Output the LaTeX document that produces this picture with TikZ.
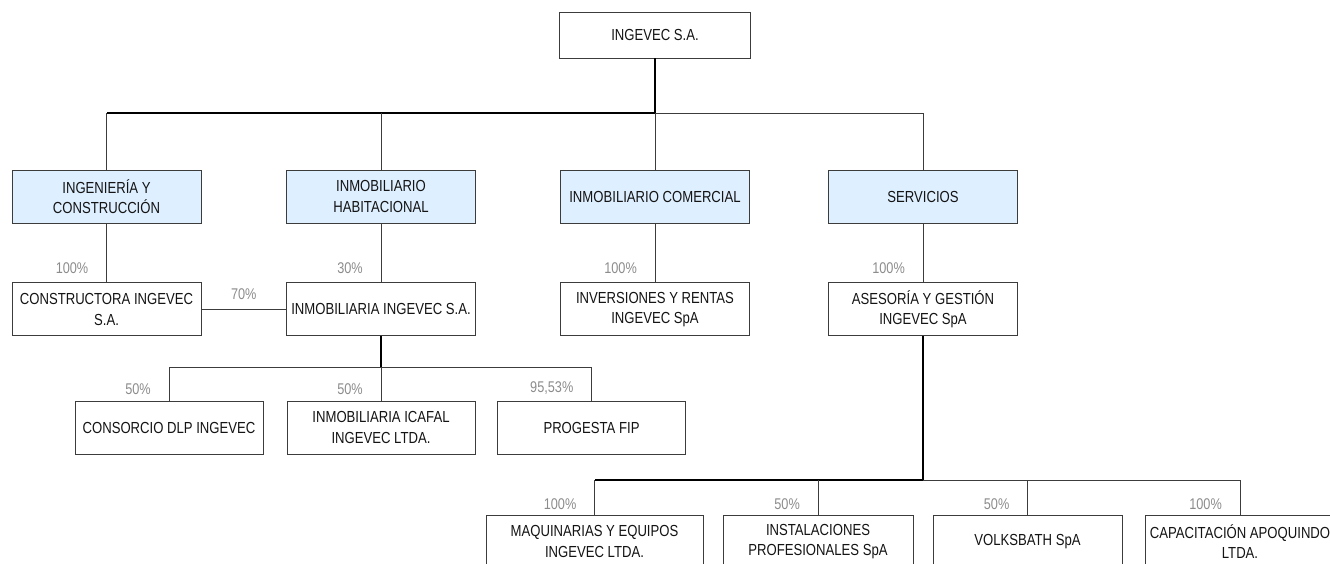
\documentclass[tikz,border=0pt]{standalone}
\usepackage{fontspec}
\setmainfont{Liberation Sans}[FakeStretch=0.82]
\usepackage{tikz}
\usetikzlibrary{positioning}

\definecolor{celeste}{RGB}{222,239,255}
\definecolor{borde}{RGB}{60,60,60}
\definecolor{gris}{RGB}{140,140,140}
\definecolor{texto}{RGB}{20,20,20}

\begin{document}
\begin{tikzpicture}[x=1pt, y=-1pt,
    box/.style={draw=borde, line width=0.9pt, fill=white, text=texto, align=center,
        minimum width=189pt, minimum height=53pt, inner xsep=2pt, inner ysep=0pt,
        font=\fontsize{16}{20.5}\selectfont},
    area/.style={box, fill=celeste},
    pct/.style={text=gris, inner sep=1pt, font=\fontsize{15.5}{17}\selectfont},
    link/.style={draw=borde, line width=0.9pt},
    trunk/.style={draw=black, line width=1.8pt}]

    \useasboundingbox (0,0) rectangle (1330,563);
    \clip (0,0) rectangle (1330,563);

    \node[box, minimum width=191pt, minimum height=46pt] (A) at (655,35) {INGEVEC S.A.};

    \node[area] (B1) at (106.5,196.5) {INGENIERÍA Y\\CONSTRUCCIÓN};
    \node[area] (B2) at (381,196.5) {INMOBILIARIO\\HABITACIONAL};
    \node[area] (B3) at (655,196.5) {INMOBILIARIO COMERCIAL};
    \node[area] (B4) at (923,196.5) {SERVICIOS};

    \node[box, below=59pt of B1] (C1) {CONSTRUCTORA INGEVEC\\S.A.};
    \node[box, below=59pt of B2] (C2) {INMOBILIARIA INGEVEC S.A.};
    \node[box, below=59pt of B3] (C3) {INVERSIONES Y RENTAS\\INGEVEC SpA};
    \node[box, below=59pt of B4] (C4) {ASESORÍA Y GESTIÓN\\INGEVEC SpA};

    \node[box, minimum width=188pt] (D1) at (169,427.5) {CONSORCIO DLP INGEVEC};
    \node[box, minimum width=188pt] (D2) at (381,427.5) {INMOBILIARIA ICAFAL\\INGEVEC LTDA.};
    \node[box, minimum width=188pt] (D3) at (591.5,427.5) {PROGESTA FIP};

    \node[box, minimum width=217pt] (E1) at (594.5,541.5) {MAQUINARIAS Y EQUIPOS\\INGEVEC LTDA.};
    \node[box, minimum width=190pt] (E2) at (818,541.5) {INSTALACIONES\\PROFESIONALES SpA};
    \node[box] (E3) at (1027.5,541.5) {VOLKSBATH SpA};
    \node[box, minimum width=190pt] (E4) at (1240,541.5) {CAPACITACIÓN APOQUINDO\\LTDA.};

    % bars
    \coordinate (a) at (655,113);
    \coordinate (b) at (381,367);
    \coordinate (c) at (923,480);

    \draw[trunk] (A) -- (a) -- (a -| B1);
    \draw[link] (a -| B1) -- (B1);
    \draw[link] (a -| B2) -- (B2);
    \draw[link] (a) -- (B3);
    \draw[link] (a) -| (B4);

    \draw[link] (B1) -- (C1);
    \draw[link] (B2) -- (C2);
    \draw[link] (B3) -- (C3);
    \draw[link] (B4) -- (C4);
    \draw[link] (C1) -- node[pct, above=8pt] (p70) {70\%} (C2);

    \draw[trunk] (C2) -- (b);
    \draw[link] (b) -| (D1);
    \draw[link] (b) -- (D2);
    \draw[link] (b) -| (D3);

    \draw[trunk] (C4) -- (c) -- (c -| E1);
    \draw[link] (c -| E1) -- (E1);
    \draw[link] (c -| E2) -- (E2);
    \draw[link] (c) -| (E3);
    \draw[link] (c) -| (E4);

    \node[pct, above left=8pt and 17pt of C1.north] (pC1) {100\%};
    \node[pct, above left=8pt and 17pt of C2.north] (pC2) {30\%};
    \node[pct, above left=8pt and 17pt of C3.north] (pC3) {100\%};
    \node[pct, above left=8pt and 17pt of C4.north] (pC4) {100\%};

    \node[pct, above left=5pt and 17pt of D1.north] (pD1) {50\%};
    \node[pct, above left=5pt and 17pt of D2.north] (pD2) {50\%};
    \node[pct, above left=5pt and 17pt of D3.north] (pD3) {95,53\%};

    \node[pct, above left=4pt and 17pt of E1.north] (pE1) {100\%};
    \node[pct, above left=4pt and 17pt of E2.north] (pE2) {50\%};
    \node[pct, above left=4pt and 17pt of E3.north] (pE3) {50\%};
    \node[pct, above left=4pt and 17pt of E4.north] (pE4) {100\%};

\end{tikzpicture}
\end{document}
